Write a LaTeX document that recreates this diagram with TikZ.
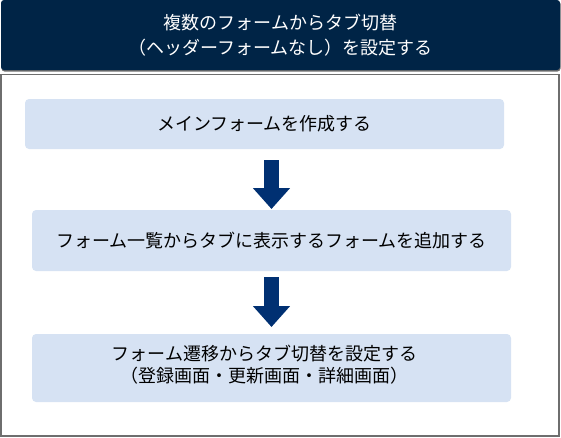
\documentclass[tikz,border=0pt]{standalone}
\usepackage{fontspec}
\usepackage{tikz}
\usetikzlibrary{arrows.meta}
\newfontfamily\jpfont{Noto Sans CJK JP}

\begin{document}
\begin{tikzpicture}[x=1pt,y=-1pt,line cap=rect]
				\definecolor{custcol_00_24_46}{RGB}{0, 36, 70}
				\definecolor{custcol_00_30_72}{RGB}{0, 48, 114}
				\definecolor{custcol_d6_e2_f3}{RGB}{214, 226, 243}
				\definecolor{custcol_6e_6e_6e}{RGB}{110, 110, 110}
				\tikzset{
					stepbox/.style={fill=custcol_d6_e2_f3, rounded corners=4pt, inner sep=0, outer sep=0,
						font=\jpfont\fontsize{18pt}{22pt}\selectfont, text=black, align=center},
					bigarrow/.style={custcol_00_30_72, line width=15pt, line cap=butt,
						-{Triangle[width=36pt,length=21pt]}}
				}
				\useasboundingbox (0.0,0.0) rectangle (561.0,437.0);
				% frame
				\draw [line width=1.5pt, custcol_6e_6e_6e ]  (1.0,74.5) rectangle (559.0,436.0) ;
				\fill [custcol_6e_6e_6e, rounded corners=3pt]  (1.5,1.0) rectangle (560.5,71.5) ;
				\node [fill=custcol_00_24_46, rounded corners=3pt, inner sep=0, outer sep=0, minimum width=559pt, minimum height=70pt,
					text=white, align=center, font=\jpfont\fontsize{18pt}{25pt}\selectfont] (title) at (280.5,35.0)
					{複数のフォームからタブ切替\\（ヘッダーフォームなし）を設定する};
				% steps
				\node [stepbox, minimum width=479pt, minimum height=50pt] (box1) at (264.5,124.0) {メインフォームを作成する};
				\node [stepbox, minimum width=479pt, minimum height=61pt] (box2) at (271.5,240.5) {フォーム一覧からタブに表示するフォームを追加する};
				\node [stepbox, minimum width=479pt, minimum height=68pt] (box3) at (271.5,368.0) {};
				\node [stepbox, fill=none] (box3text) at ([xshift=-7pt,yshift=3pt]box3.center)
					{フォーム遷移からタブ切替を設定する\\（登録画面・更新画面・詳細画面）};
				\draw [bigarrow, shorten <=11pt, shorten >=1pt]  (box2.north |- box1.south) -- (box2.north) ;
				\draw [bigarrow, shorten <=6pt, shorten >=7pt]  (box2.south) -- (box3.north) ;
			\end{tikzpicture}
\end{document}
